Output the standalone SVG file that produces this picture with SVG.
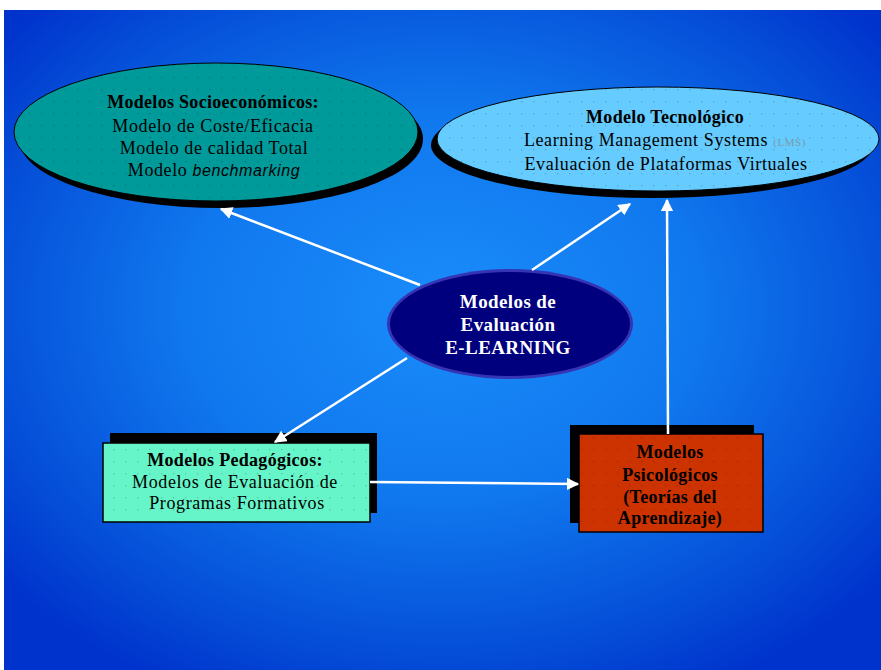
<svg xmlns="http://www.w3.org/2000/svg" width="881" height="670" viewBox="0 0 881 670">
<style>
text{font-family:"Liberation Serif","Times New Roman",serif;font-size:18px;text-anchor:middle;fill:#000;letter-spacing:0.6px}
.b{font-weight:bold;letter-spacing:0.3px}
.w{fill:#fff;font-weight:bold;font-size:19px;letter-spacing:0.4px}
.sh{fill:#000}
.conn line{stroke:#fff;stroke-width:2.5;marker-end:url(#ah)}
</style>
<defs>
<radialGradient id="bg" cx="50%" cy="45%" r="65%">
<stop offset="0" stop-color="#1a8cfa"/>
<stop offset="0.45" stop-color="#1078ee"/>
<stop offset="0.8" stop-color="#054fd8"/>
<stop offset="1" stop-color="#0033cc"/>
</radialGradient>
<pattern id="dots" width="12" height="12" patternUnits="userSpaceOnUse">
<rect x="5" y="5" width="1.3" height="1.3" fill="#000" fill-opacity="0.18"/>
</pattern>
<marker id="ah" viewBox="0 0 10 10" refX="9" refY="5" markerWidth="5" markerHeight="5" orient="auto" markerUnits="strokeWidth">
<path d="M0,0 L10,5 L0,10 z" fill="#fff"/>
</marker>
</defs>
<rect x="0" y="0" width="881" height="670" fill="#fff"/>
<rect x="4" y="10" width="877" height="660" fill="url(#bg)"/>

<g id="n-socio">
<ellipse cx="221" cy="139" rx="202" ry="69" class="sh"/>
<ellipse cx="216" cy="132" rx="202" ry="69" fill="#009a9a" stroke="#000" stroke-width="1"/>
<ellipse cx="216" cy="132" rx="202" ry="69" fill="url(#dots)"/>
<text x="213" y="108" class="b">Modelos Socioeconómicos:</text>
<text x="213" y="132">Modelo de Coste/Eficacia</text>
<text x="214" y="154">Modelo de calidad Total</text>
<text x="214" y="176">Modelo <tspan font-style="italic" font-family="Liberation Sans, Arial, sans-serif" font-size="16">benchmarking</tspan></text>
</g>

<g id="n-tecno">
<ellipse cx="652" cy="145" rx="221" ry="53" class="sh"/>
<ellipse cx="658" cy="139" rx="221" ry="52" fill="#66ccff" stroke="#000" stroke-width="1"/>
<ellipse cx="658" cy="139" rx="221" ry="52" fill="url(#dots)"/>
<text x="665" y="123" class="b">Modelo Tecnológico</text>
<text x="665" y="146">Learning Management Systems <tspan font-size="11" fill="#7a9aa8">(LMS)</tspan></text>
<text x="666" y="170">Evaluación de Plataformas Virtuales</text>
</g>

<g id="n-center">
<ellipse cx="510" cy="324" rx="123" ry="55" fill="#3434b4"/>
<ellipse cx="510" cy="324" rx="120" ry="52" fill="#00007e"/>
<text x="508" y="308" class="w">Modelos de</text>
<text x="508" y="331" class="w">Evaluación</text>
<text x="508" y="354" class="w">E-LEARNING</text>
</g>

<g id="n-pedag">
<rect x="110" y="433" width="267" height="80" class="sh"/>
<rect x="103" y="443" width="267" height="79" fill="#66f5c8" stroke="#000" stroke-width="1.5"/>
<rect x="103" y="443" width="267" height="79" fill="url(#dots)"/>
<text x="235" y="466" class="b">Modelos Pedagógicos:</text>
<text x="235" y="488">Modelos de Evaluación de</text>
<text x="237" y="509">Programas Formativos</text>
</g>

<g id="n-psico">
<rect x="570" y="425" width="184" height="98" class="sh"/>
<rect x="579" y="434" width="184" height="98" fill="#cc3300" stroke="#000" stroke-width="1.5"/>
<rect x="579" y="434" width="184" height="98" fill="url(#dots)"/>
<text x="670" y="458" class="b">Modelos</text>
<text x="670" y="481" class="b">Psicológicos</text>
<text x="670" y="503" class="b">(Teorías del</text>
<text x="670" y="524" class="b">Aprendizaje)</text>
</g>

<g id="connectors" class="conn">
<line x1="420" y1="285" x2="221" y2="209"/>
<line x1="532" y1="270" x2="630" y2="204"/>
<line x1="668" y1="434" x2="667" y2="200"/>
<line x1="407" y1="358" x2="275" y2="442"/>
<line x1="370" y1="482" x2="578" y2="484"/>
</g>
</svg>
